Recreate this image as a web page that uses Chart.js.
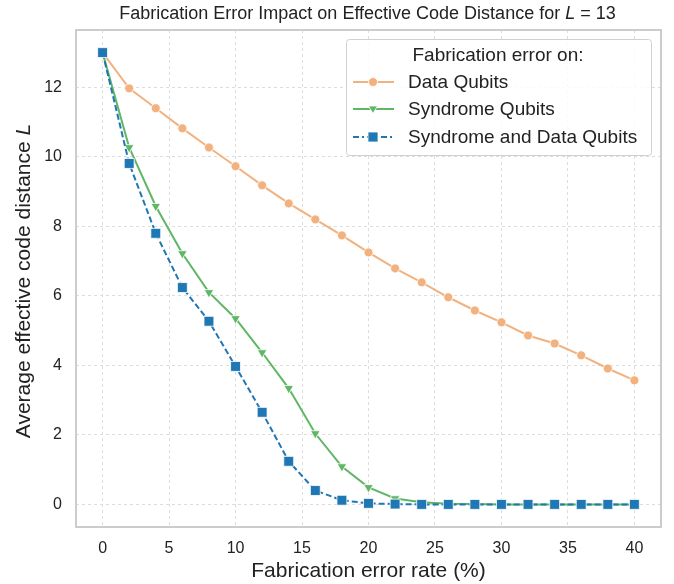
<!DOCTYPE html>
<html>
<head>
<meta charset="utf-8">
<script src="https://cdn.jsdelivr.net/npm/chart.js@4"></script>
<style>
  html, body { margin: 0; padding: 0; background: #fff; }
  #wrap { width: 674px; height: 584px; }
</style>
</head>
<body>
<div id="wrap"><canvas id="chart" width="674" height="584"></canvas></div>
<script>
const errorRates = [0, 2, 4, 6, 8, 10, 12, 14, 16, 18, 20, 22, 24, 26, 28, 30, 32, 34, 36, 38, 40];
const dataQubits = [13, 11.97, 11.4, 10.82, 10.27, 9.73, 9.18, 8.66, 8.2, 7.74, 7.25, 6.79, 6.39, 5.96, 5.58, 5.24, 4.86, 4.63, 4.29, 3.91, 3.57];
const syndromeQubits = [13, 10.27, 8.58, 7.22, 6.1, 5.35, 4.37, 3.34, 2.04, 1.09, 0.49, 0.17, 0.06, 0.02, 0.01, 0, 0, 0, 0, 0, 0];
const bothQubits = [13, 9.81, 7.8, 6.24, 5.27, 3.97, 2.65, 1.24, 0.4, 0.12, 0.03, 0.01, 0, 0, 0, 0, 0, 0, 0, 0, 0];
const seriesNames = ['Data Qubits', 'Syndrome Qubits', 'Syndrome and Data Qubits'];
const xTicks = [0, 5, 10, 15, 20, 25, 30, 35, 40];
const yTicks = [0, 2, 4, 6, 8, 10, 12];

const FONT = '"Liberation Sans", Arial, sans-serif';
const colors = ['#f2b27f', '#5fb665', '#1f77b4'];

function toPoints(vals) {
    return errorRates.map((x, i) => ({ x: x, y: vals[i] }));
}

// legend marker, same look as the plotted points
function marker(ctx, style, x, y, color) {
    ctx.save();
    ctx.fillStyle = color;
    ctx.strokeStyle = '#ffffff';
    ctx.lineWidth = 0.8;
    ctx.setLineDash([]);
    ctx.beginPath();
    if (style === 'circle') {
        ctx.arc(x, y, 4.5, 0, Math.PI * 2);
    } else if (style === 'triangle') {
        ctx.moveTo(x - 4.5, y - 3);
        ctx.lineTo(x + 4.5, y - 3);
        ctx.lineTo(x, y + 4.5);
        ctx.closePath();
    } else {
        ctx.rect(x - 5, y - 5, 10, 10);
    }
    ctx.fill();
    ctx.stroke();
    ctx.restore();
}

const decorations = {
    id: 'decorations',
    beforeDatasetsDraw(chart) {
        const ctx = chart.ctx;
        const a = chart.chartArea;
        ctx.save();
        ctx.strokeStyle = '#cccccc';
        ctx.lineWidth = 2;
        ctx.strokeRect(a.left, a.top, a.right - a.left, a.bottom - a.top);
        ctx.restore();
    },
    afterDraw(chart) {
        const ctx = chart.ctx;
        const a = chart.chartArea;
        ctx.save();
        ctx.fillStyle = '#222222';
        ctx.textBaseline = 'middle';

        // title with italic L
        const p1 = 'Fabrication Error Impact on Effective Code Distance for ';
        const p3 = ' = 13';
        const tf = '18px ' + FONT;
        ctx.font = tf;
        const w1 = ctx.measureText(p1).width;
        const w3 = ctx.measureText(p3).width;
        ctx.font = 'italic ' + tf;
        const w2 = ctx.measureText('L').width;
        let tx = (a.left + a.right) / 2 - (w1 + w2 + w3) / 2 - 1;
        const ty = 14;
        ctx.textAlign = 'left';
        ctx.font = tf;
        ctx.fillText(p1, tx, ty);
        ctx.font = 'italic ' + tf;
        ctx.fillText('L', tx + w1, ty);
        ctx.font = tf;
        ctx.fillText(p3, tx + w1 + w2, ty);

        // y axis title
        const y1 = 'Average effective code distance ';
        const yf = '21px ' + FONT;
        ctx.font = yf;
        const yw1 = ctx.measureText(y1).width;
        ctx.font = 'italic ' + yf;
        const yw2 = ctx.measureText('L').width;
        ctx.translate(24, 281);
        ctx.rotate(-Math.PI / 2);
        const sx = -(yw1 + yw2) / 2;
        ctx.font = yf;
        ctx.fillText(y1, sx, 0);
        ctx.font = 'italic ' + yf;
        ctx.fillText('L', sx + yw1, 0);
        ctx.restore();

        // legend inside plot
        ctx.save();
        const bx = 346, by = 39, bw = 305, bh = 116;
        ctx.fillStyle = 'rgba(255,255,255,0.85)';
        ctx.strokeStyle = '#d0d0d0';
        ctx.lineWidth = 1;
        ctx.beginPath();
        ctx.roundRect(bx + 0.5, by + 0.5, bw, bh, 3);
        ctx.fill();
        ctx.stroke();
        ctx.fillStyle = '#222222';
        ctx.textBaseline = 'middle';
        ctx.textAlign = 'center';
        ctx.font = '19px ' + FONT;
        ctx.fillText('Fabrication error on:', 498, 56);
        const styles = ['circle', 'triangle', 'rect'];
        const dashes = [[], [], [6, 3, 2, 3]];
        const rows = [82, 109, 137];
        for (let i = 0; i < 3; i++) {
            const ry = rows[i];
            ctx.strokeStyle = colors[i];
            ctx.lineWidth = 2;
            ctx.setLineDash(dashes[i]);
            ctx.beginPath();
            ctx.moveTo(353, ry);
            ctx.lineTo(394, ry);
            ctx.stroke();
            ctx.setLineDash([]);
            marker(ctx, styles[i], 373, ry, colors[i]);
            ctx.fillStyle = '#222222';
            ctx.textAlign = 'left';
            ctx.font = '19px ' + FONT;
            ctx.fillText(seriesNames[i], 408, ry + 1);
        }
        ctx.restore();
    }
};

new Chart(document.getElementById('chart'), {
    type: 'line',
    data: {
        datasets: [
            {
                label: seriesNames[0],
                data: toPoints(dataQubits),
                order: 3,
                borderColor: colors[0],
                backgroundColor: colors[0],
                borderWidth: 2,
                pointStyle: 'circle',
                pointRadius: 4.5,
                pointBorderColor: '#ffffff',
                pointBorderWidth: 0.8
            },
            {
                label: seriesNames[1],
                data: toPoints(syndromeQubits),
                order: 2,
                borderColor: colors[1],
                backgroundColor: colors[1],
                borderWidth: 2,
                pointStyle: 'triangle',
                pointRotation: 180,
                pointRadius: 5.5,
                pointBorderColor: '#ffffff',
                pointBorderWidth: 0.8
            },
            {
                label: seriesNames[2],
                data: toPoints(bothQubits),
                order: 1,
                borderColor: colors[2],
                backgroundColor: colors[2],
                borderWidth: 2,
                borderDash: [6, 3],
                pointStyle: 'rect',
                pointRadius: 7,
                pointBorderColor: '#ffffff',
                pointBorderWidth: 0.8
            }
        ]
    },
    options: {
        responsive: false,
        animation: false,
        layout: { padding: { top: 30, right: 13, left: 0, bottom: 0 } },
        plugins: {
            legend: { display: false },
            title: { display: false },
            tooltip: { enabled: false }
        },
        scales: {
            x: {
                type: 'linear',
                min: -2,
                max: 42,
                afterBuildTicks: function(scale) {
                    scale.ticks = xTicks.map(v => ({ value: v }));
                },
                afterFit: function(scale) { scale.height = 57; },
                grid: { color: '#dddddd', drawTicks: false },
                border: { display: false, dash: [3, 3] },
                ticks: { color: '#222222', font: { family: FONT, size: 16 }, padding: 12 },
                title: {
                    display: true,
                    text: 'Fabrication error rate (%)',
                    color: '#222222',
                    font: { family: FONT, size: 21 },
                    padding: { top: 0, bottom: 0 }
                }
            },
            y: {
                type: 'linear',
                min: -0.65,
                max: 13.65,
                afterBuildTicks: function(scale) {
                    scale.ticks = yTicks.map(v => ({ value: v }));
                },
                afterFit: function(scale) { scale.width = 76; },
                grid: { color: '#dddddd', drawTicks: false },
                border: { display: false, dash: [3, 3] },
                ticks: { color: '#222222', font: { family: FONT, size: 16 }, padding: 14 }
            }
        }
    },
    plugins: [decorations]
});
</script>
</body>
</html>
